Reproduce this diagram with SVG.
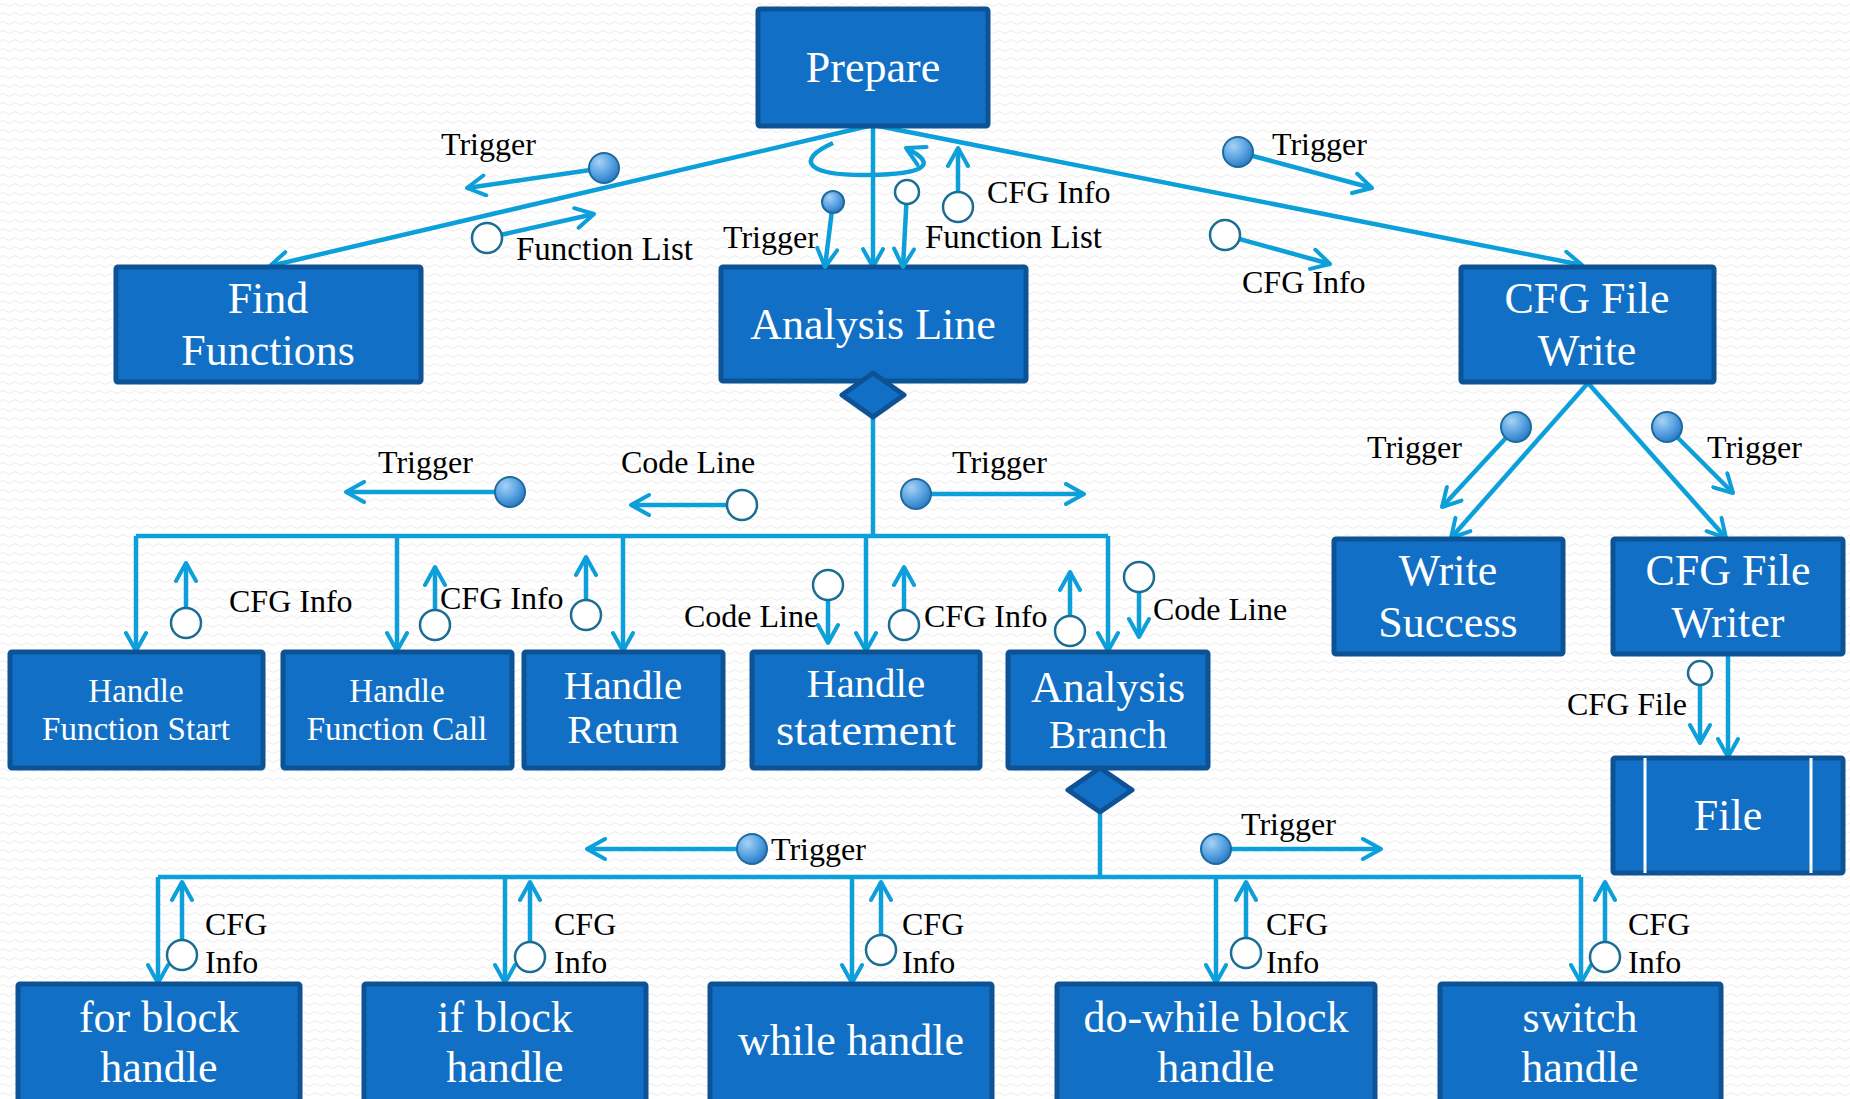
<svg xmlns="http://www.w3.org/2000/svg" width="1850" height="1099" viewBox="0 0 1850 1099">
<defs>
<pattern id="bgp" patternUnits="userSpaceOnUse" width="12" height="9">
<path d="M0 5 Q3 2 6 5 T12 5" fill="none" stroke="#ececec" stroke-width="1"/>
</pattern>
<marker id="ah" markerUnits="userSpaceOnUse" viewBox="0 0 24 24" refX="21" refY="12" markerWidth="24" markerHeight="24" orient="auto">
<path d="M3 2 L21 12 L3 22" fill="none" stroke="#0c9fd9" stroke-width="4" stroke-linecap="round" stroke-linejoin="round"/>
</marker>
<radialGradient id="ball" cx="0.35" cy="0.3" r="0.75">
<stop offset="0" stop-color="#a6d2f4"/>
<stop offset="0.55" stop-color="#5aa3e2"/>
<stop offset="1" stop-color="#2677c2"/>
</radialGradient>
<style>
.box{fill:#1170c5;stroke:#0c5294;stroke-width:5}
.dia{fill:#1170c5;stroke:#0c5294;stroke-width:5;stroke-linejoin:round}
.bt{font-family:"Liberation Serif",serif;fill:#ffffff;text-anchor:middle}
.b44{font-size:44px}
.b41{font-size:41px}
.b33{font-size:33px}
.ln{stroke:#0c9fd9;stroke-width:4.5;fill:none}
.arr{stroke:#0c9fd9;stroke-width:4.5;fill:none;marker-end:url(#ah)}
.dot{fill:url(#ball);stroke:#1d6a9c;stroke-width:2}
.hol{fill:#ffffff;stroke:#1b6d94;stroke-width:2.5}
.lb{font-family:"Liberation Serif",serif;font-size:32px;fill:#000000}
.lb33{font-size:33px}
</style>
</defs>
<rect width="1850" height="1099" fill="#ffffff"/>
<rect width="1850" height="1099" fill="url(#bgp)"/>

<g id="connectors">
<line class="arr" x1="873" y1="125" x2="270" y2="266"/>
<line class="arr" x1="873" y1="125" x2="873" y2="267"/>
<line class="arr" x1="873" y1="125" x2="1582" y2="265"/>
<path class="arr" d="M833 143 C795 160 805 176 870 175 C920 174 942 166 906 148"/>
<line class="ln" x1="873" y1="415" x2="873" y2="536"/>
<line class="ln" x1="136" y1="536" x2="1108" y2="536"/>
<line class="arr" x1="136" y1="536" x2="136" y2="651"/>
<line class="arr" x1="397" y1="536" x2="397" y2="651"/>
<line class="arr" x1="623" y1="536" x2="623" y2="651"/>
<line class="arr" x1="866" y1="536" x2="866" y2="651"/>
<line class="arr" x1="1108" y1="536" x2="1108" y2="651"/>
<line class="arr" x1="1588" y1="383" x2="1451" y2="538"/>
<line class="arr" x1="1588" y1="383" x2="1726" y2="538"/>
<line class="arr" x1="1728" y1="655" x2="1728" y2="757"/>
<line class="ln" x1="1100" y1="810" x2="1100" y2="877"/>
<line class="ln" x1="158" y1="877" x2="1581" y2="877"/>
<line class="arr" x1="158" y1="877" x2="158" y2="983"/>
<line class="arr" x1="505" y1="877" x2="505" y2="983"/>
<line class="arr" x1="852" y1="877" x2="852" y2="983"/>
<line class="arr" x1="1216" y1="877" x2="1216" y2="983"/>
<line class="arr" x1="1581" y1="877" x2="1581" y2="983"/>
</g>

<g id="node-prepare">
<rect class="box" x="758" y="9" width="230" height="117" rx="2"/>
<text class="bt b44" x="873" y="82">Prepare</text>
</g>
<g id="node-find-functions">
<rect class="box" x="116" y="267" width="305" height="115" rx="2"/>
<text class="bt b44" x="268" y="313">Find</text>
<text class="bt b44" x="268" y="365">Functions</text>
</g>
<g id="node-analysis-line">
<rect class="box" x="721" y="267" width="305" height="114" rx="2"/>
<text class="bt b44" x="873" y="339">Analysis Line</text>
<path class="dia" d="M873 373 L904 395 L873 417 L842 395 Z"/>
</g>
<g id="node-cfg-file-write">
<rect class="box" x="1461" y="267" width="253" height="115" rx="2"/>
<text class="bt b44" x="1587" y="313">CFG File</text>
<text class="bt b44" x="1587" y="365">Write</text>
</g>
<g id="node-write-success">
<rect class="box" x="1334" y="539" width="229" height="115" rx="2"/>
<text class="bt b44" x="1448" y="585">Write</text>
<text class="bt b44" x="1448" y="637">Success</text>
</g>
<g id="node-cfg-file-writer">
<rect class="box" x="1613" y="539" width="230" height="115" rx="2"/>
<text class="bt b44" x="1728" y="585">CFG File</text>
<text class="bt b44" x="1728" y="637">Writer</text>
</g>
<g id="node-file">
<rect class="box" x="1613" y="758" width="230" height="115" rx="2"/>
<line x1="1645" y1="758" x2="1645" y2="873" stroke="#ffffff" stroke-width="3"/>
<line x1="1811" y1="758" x2="1811" y2="873" stroke="#ffffff" stroke-width="3"/>
<text class="bt b44" x="1728" y="830">File</text>
</g>
<g id="node-handle-function-start">
<rect class="box" x="10" y="652" width="253" height="116" rx="2"/>
<text class="bt b33" x="136" y="702">Handle</text>
<text class="bt b33" x="136" y="740">Function Start</text>
</g>
<g id="node-handle-function-call">
<rect class="box" x="283" y="652" width="229" height="116" rx="2"/>
<text class="bt b33" x="397" y="702">Handle</text>
<text class="bt b33" x="397" y="740">Function Call</text>
</g>
<g id="node-handle-return">
<rect class="box" x="524" y="652" width="199" height="116" rx="2"/>
<text class="bt b41" x="623" y="699">Handle</text>
<text class="bt b41" x="623" y="743">Return</text>
</g>
<g id="node-handle-statement">
<rect class="box" x="752" y="652" width="228" height="116" rx="2"/>
<text class="bt b41" x="866" y="697">Handle</text>
<text class="bt b44" x="866" y="745" textLength="180" lengthAdjust="spacingAndGlyphs">statement</text>
</g>
<g id="node-analysis-branch">
<rect class="box" x="1008" y="652" width="200" height="116" rx="2"/>
<text class="bt b44" x="1108" y="702">Analysis</text>
<text class="bt b41" x="1108" y="748">Branch</text>
<path class="dia" d="M1100 768 L1132 790 L1100 812 L1068 790 Z"/>
</g>
<g id="node-for-block">
<rect class="box" x="18" y="984" width="282" height="125" rx="2"/>
<text class="bt b44" x="159" y="1032">for block</text>
<text class="bt b44" x="159" y="1082">handle</text>
</g>
<g id="node-if-block">
<rect class="box" x="364" y="984" width="282" height="125" rx="2"/>
<text class="bt b44" x="505" y="1032">if block</text>
<text class="bt b44" x="505" y="1082">handle</text>
</g>
<g id="node-while-handle">
<rect class="box" x="710" y="984" width="282" height="125" rx="2"/>
<text class="bt b44" x="851" y="1055">while handle</text>
</g>
<g id="node-do-while">
<rect class="box" x="1057" y="984" width="318" height="125" rx="2"/>
<text class="bt b44" x="1216" y="1032">do-while block</text>
<text class="bt b44" x="1216" y="1082">handle</text>
</g>
<g id="node-switch">
<rect class="box" x="1440" y="984" width="281" height="125" rx="2"/>
<text class="bt b44" x="1580" y="1032">switch</text>
<text class="bt b44" x="1580" y="1082">handle</text>
</g>

<g id="messages">
<line class="arr" x1="604" y1="168" x2="467" y2="188"/><circle class="dot" cx="604" cy="168" r="15"/>
<text class="lb" x="441" y="155">Trigger</text>
<line class="arr" x1="487" y1="238" x2="594" y2="214"/><circle class="hol" cx="487" cy="238" r="15"/>
<text class="lb lb33" x="516" y="260">Function List</text>
<line class="arr" x1="833" y1="202" x2="825" y2="267"/><circle class="dot" cx="833" cy="202" r="11"/>
<text class="lb" x="723" y="248">Trigger</text>
<line class="arr" x1="907" y1="192" x2="903" y2="267"/><circle class="hol" cx="907" cy="192" r="12"/>
<text class="lb lb33" x="925" y="248">Function List</text>
<line class="arr" x1="958" y1="207" x2="958" y2="148"/><circle class="hol" cx="958" cy="207" r="15"/>
<text class="lb" x="987" y="203">CFG Info</text>
<line class="arr" x1="1238" y1="152" x2="1372" y2="188"/><circle class="dot" cx="1238" cy="152" r="15"/>
<text class="lb" x="1272" y="155">Trigger</text>
<line class="arr" x1="1225" y1="235" x2="1330" y2="264"/><circle class="hol" cx="1225" cy="235" r="15"/>
<text class="lb" x="1242" y="293">CFG Info</text>

<line class="arr" x1="510" y1="492" x2="346" y2="492"/><circle class="dot" cx="510" cy="492" r="15"/>
<text class="lb" x="378" y="473">Trigger</text>
<line class="arr" x1="742" y1="505" x2="631" y2="505"/><circle class="hol" cx="742" cy="505" r="15"/>
<text class="lb" x="621" y="473">Code Line</text>
<line class="arr" x1="916" y1="494" x2="1084" y2="494"/><circle class="dot" cx="916" cy="494" r="15"/>
<text class="lb" x="952" y="473">Trigger</text>
<line class="arr" x1="186" y1="623" x2="186" y2="563"/><circle class="hol" cx="186" cy="623" r="15"/>
<text class="lb" x="229" y="612">CFG Info</text>
<line class="arr" x1="435" y1="625" x2="435" y2="567"/><circle class="hol" cx="435" cy="625" r="15"/>
<text class="lb" x="440" y="609">CFG Info</text>
<line class="arr" x1="586" y1="615" x2="586" y2="557"/><circle class="hol" cx="586" cy="615" r="15"/>
<line class="arr" x1="828" y1="585" x2="828" y2="643"/><circle class="hol" cx="828" cy="585" r="15"/>
<text class="lb" x="684" y="627">Code Line</text>
<line class="arr" x1="904" y1="625" x2="904" y2="567"/><circle class="hol" cx="904" cy="625" r="15"/>
<text class="lb" x="924" y="627">CFG Info</text>
<line class="arr" x1="1070" y1="631" x2="1070" y2="572"/><circle class="hol" cx="1070" cy="631" r="15"/>
<line class="arr" x1="1139" y1="577" x2="1139" y2="637"/><circle class="hol" cx="1139" cy="577" r="15"/>
<text class="lb" x="1153" y="620">Code Line</text>

<line class="arr" x1="1516" y1="427" x2="1442" y2="507"/><circle class="dot" cx="1516" cy="427" r="15"/>
<text class="lb" x="1367" y="458">Trigger</text>
<line class="arr" x1="1667" y1="427" x2="1733" y2="493"/><circle class="dot" cx="1667" cy="427" r="15"/>
<text class="lb" x="1707" y="458">Trigger</text>
<line class="arr" x1="1700" y1="673" x2="1700" y2="743"/><circle class="hol" cx="1700" cy="673" r="12"/>
<text class="lb" x="1567" y="715">CFG File</text>

<line class="arr" x1="752" y1="849" x2="587" y2="849"/><circle class="dot" cx="752" cy="849" r="15"/>
<text class="lb" x="771" y="860">Trigger</text>
<line class="arr" x1="1216" y1="849" x2="1381" y2="849"/><circle class="dot" cx="1216" cy="849" r="15"/>
<text class="lb" x="1241" y="835">Trigger</text>
<line class="arr" x1="182" y1="955" x2="182" y2="882"/><circle class="hol" cx="182" cy="955" r="15"/>
<text class="lb" x="205" y="935">CFG</text><text class="lb" x="205" y="973">Info</text>
<line class="arr" x1="530" y1="957" x2="530" y2="882"/><circle class="hol" cx="530" cy="957" r="15"/>
<text class="lb" x="554" y="935">CFG</text><text class="lb" x="554" y="973">Info</text>
<line class="arr" x1="881" y1="950" x2="881" y2="882"/><circle class="hol" cx="881" cy="950" r="15"/>
<text class="lb" x="902" y="935">CFG</text><text class="lb" x="902" y="973">Info</text>
<line class="arr" x1="1246" y1="953" x2="1246" y2="882"/><circle class="hol" cx="1246" cy="953" r="15"/>
<text class="lb" x="1266" y="935">CFG</text><text class="lb" x="1266" y="973">Info</text>
<line class="arr" x1="1605" y1="957" x2="1605" y2="882"/><circle class="hol" cx="1605" cy="957" r="15"/>
<text class="lb" x="1628" y="935">CFG</text><text class="lb" x="1628" y="973">Info</text>
</g>
</svg>
